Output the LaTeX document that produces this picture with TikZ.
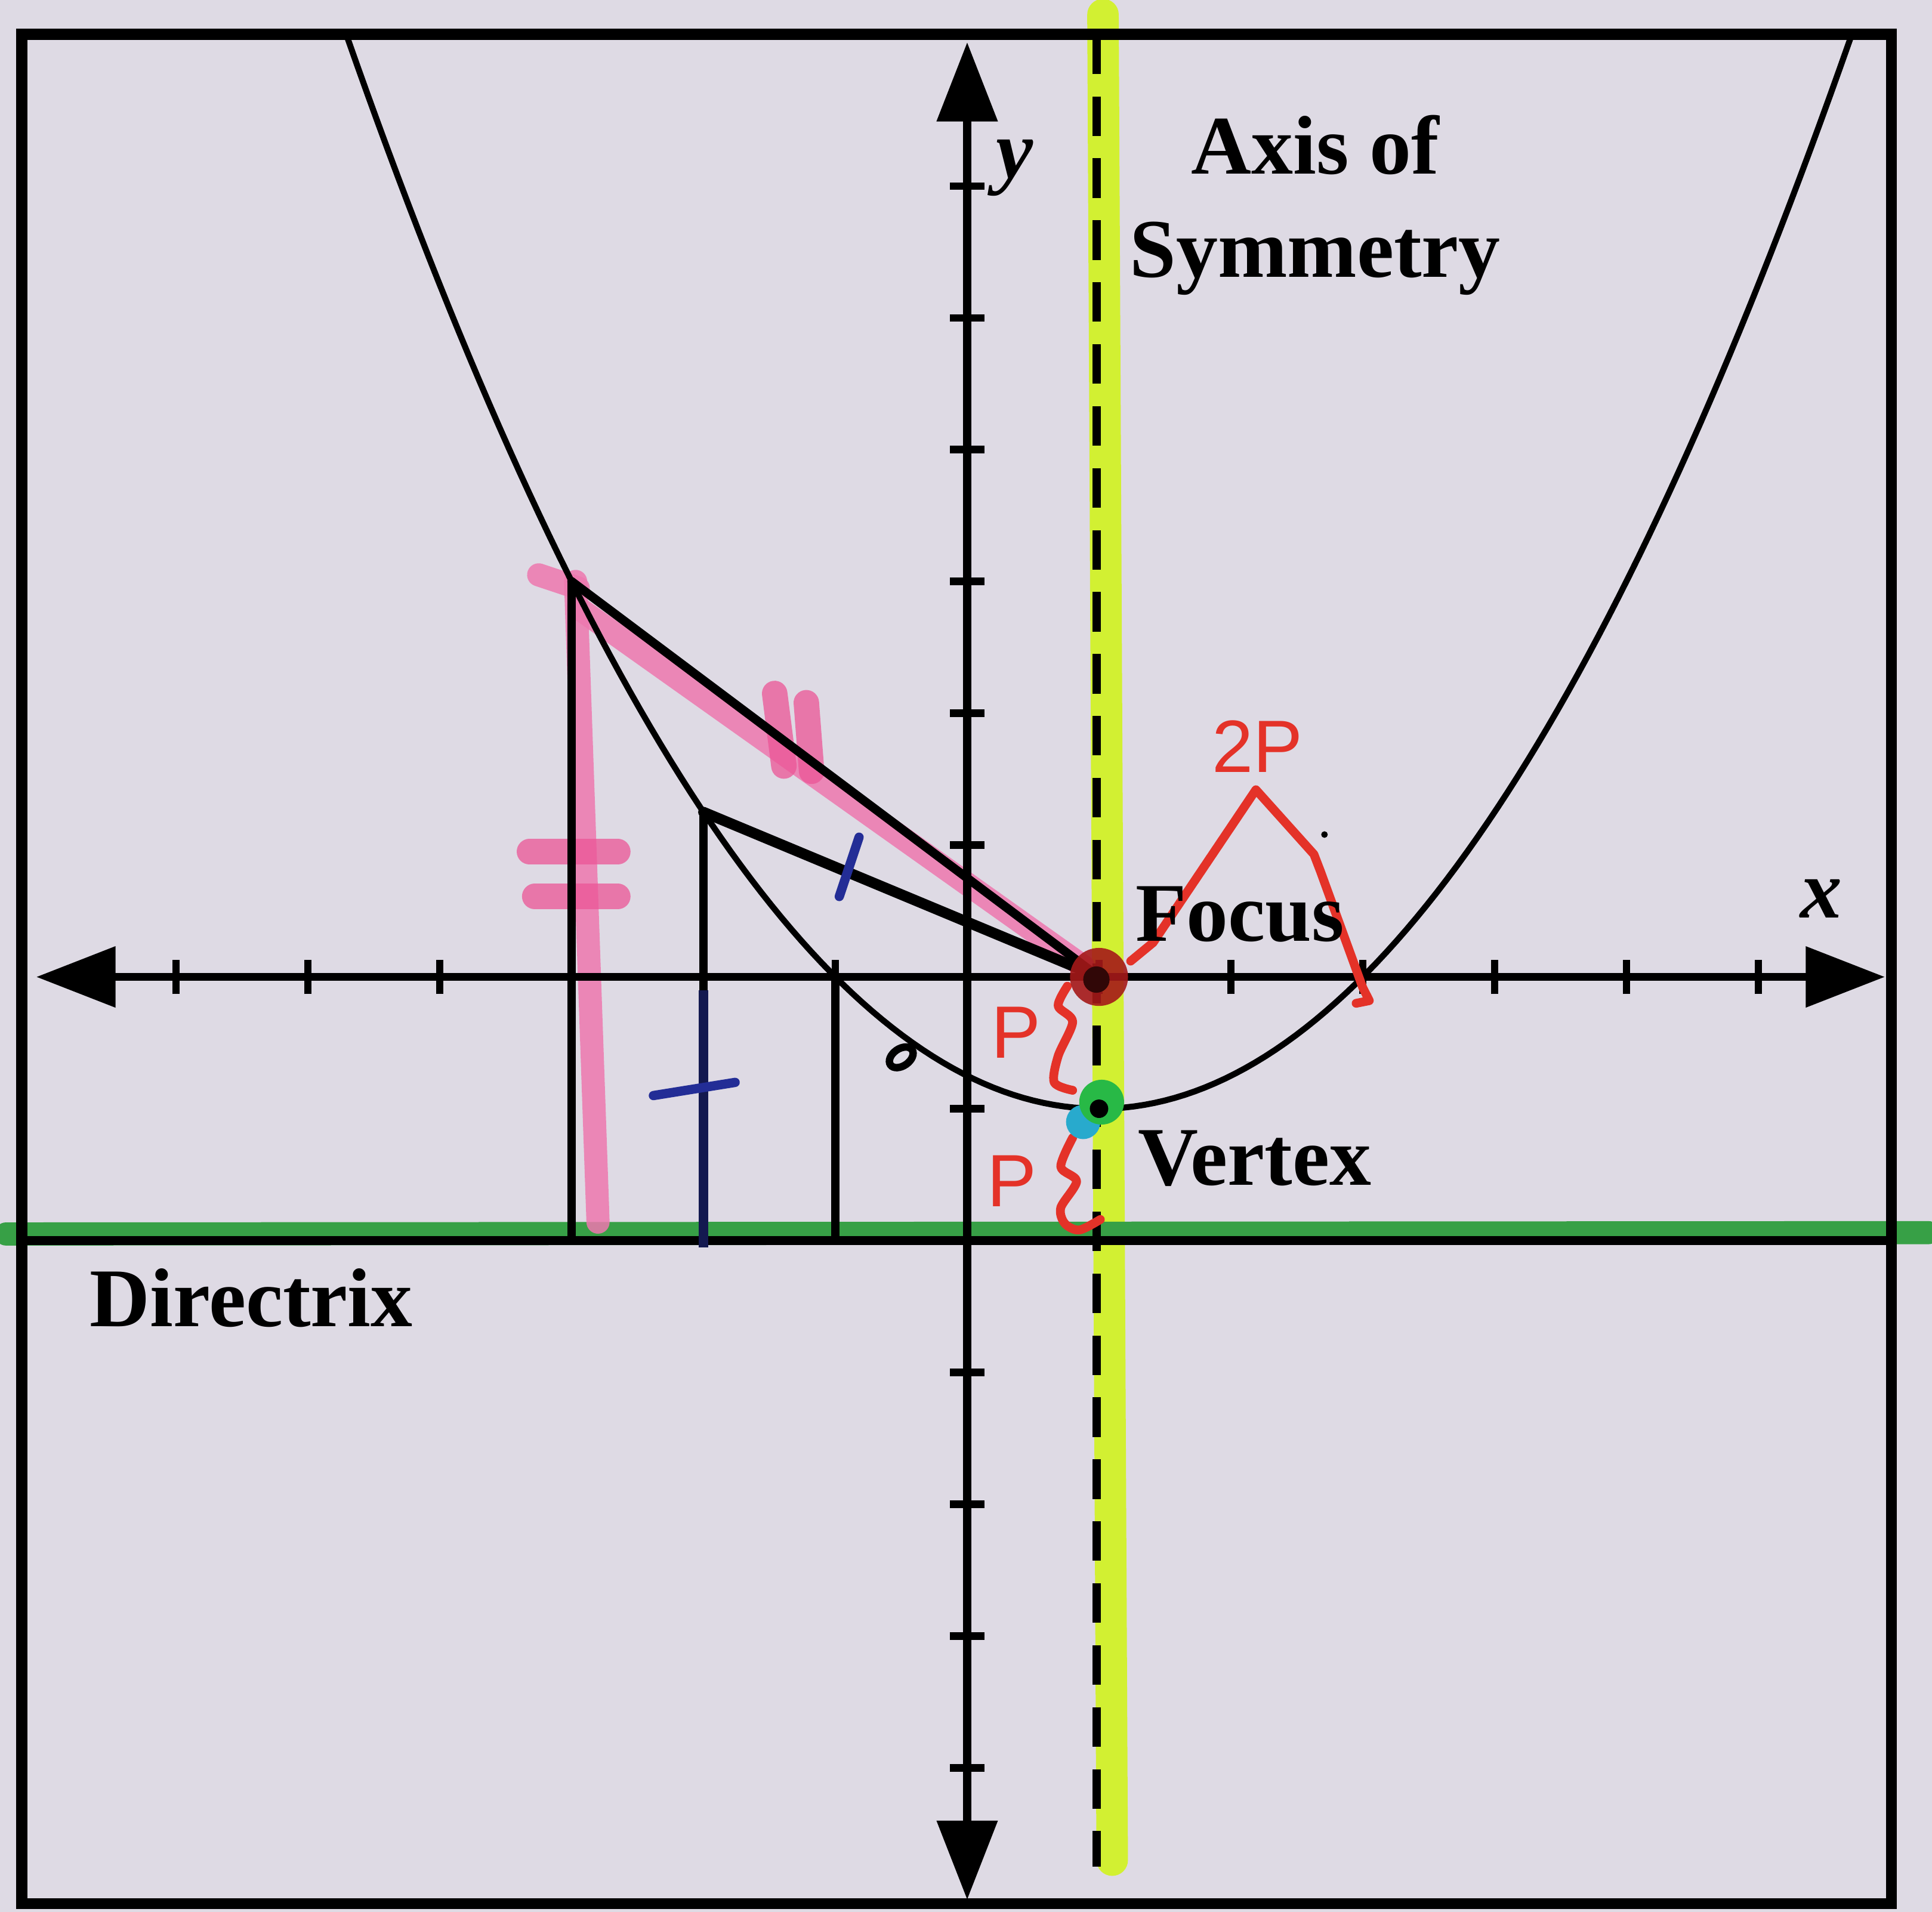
\documentclass[tikz,border=0pt]{standalone}
\usepackage{fontspec}
\setmainfont{Liberation Serif}
\newfontfamily\handfont{Liberation Sans}
\usetikzlibrary{arrows.meta}
\definecolor{paper}{RGB}{222,218,228}
\definecolor{limehl}{RGB}{210,240,50}
\definecolor{greenhl}{RGB}{55,160,70}
\definecolor{pinkhl}{RGB}{238,120,175}
\definecolor{pinkmark}{RGB}{236,85,150}
\definecolor{redpen}{RGB}{228,50,40}
\definecolor{focusred}{RGB}{165,25,25}
\definecolor{bluepen}{RGB}{35,45,150}
\definecolor{navypen}{RGB}{20,25,80}
\definecolor{vgreen}{RGB}{40,185,70}
\definecolor{vcyan}{RGB}{40,170,205}
\tikzset{
  framebox/.style={line width=2.4pt, draw=black},
  axisline/.style={line width=1.7pt, black},
  tickmark/.style={line width=1.6pt, black},
  curveline/.style={line width=1.3pt, black},
  seg/.style={line width=1.9pt, black, line cap=round},
  symdash/.style={line width=1.8pt, black, dash pattern=on 0.3cm off 0.17cm},
  hlpink/.style={line width=5pt, pinkhl, opacity=0.85, line cap=round},
  hashpink/.style={line width=5.5pt, pinkmark, opacity=0.75, line cap=round},
  pen/.style={line width=1.9pt, redpen, line cap=round, line join=round},
  bluemark/.style={line width=2pt, bluepen, line cap=round},
  boldlabel/.style={font=\fontsize{18}{20}\selectfont\bfseries, text=black, inner sep=0pt},
  axlabel/.style={font=\fontsize{18}{20}\selectfont\itshape\bfseries, text=black, inner sep=0pt},
  handlabel/.style={font=\handfont\fontsize{16}{18}\selectfont, text=redpen, inner sep=0pt},
  tri/.tip={Triangle[length=0.6cm, width=0.45cm]}
}
\begin{document}
\begin{tikzpicture}[x=1cm,y=1cm]
\fill[paper] (-7.336,-7.093) rectangle (7.318,7.411);
\useasboundingbox (-7.336,-7.093) rectangle (7.318,7.411);

% key points
\coordinate (O) at (0,0);
\coordinate (F) at (1,0);
\coordinate (V) at (1,-1);
\coordinate (P1) at (-3,3);
\coordinate (P2) at (-2,1.25);
\coordinate (P3) at (-1,0);
\coordinate (D1) at (-3,-2);
\coordinate (D2) at (-2,-2);
\coordinate (D3) at (-1,-2);

% highlighters
\draw[line width=6.8pt, limehl, line cap=round] (1.03,7.3) -- (1.1,-6.7);
\draw[line width=5pt, greenhl, line cap=round] (-7.29,-1.95) -- (7.29,-1.94);
\draw[hlpink] (-2.97,3.0) -- (-2.80,-1.86);
\draw[hlpink] (-3.25,3.05) -- (-2.95,2.95);
\draw[hlpink] (-2.95,2.8) -- (0.88,0.08);
\draw[hashpink] (-1.46,2.15) -- (-1.39,1.6);
\draw[hashpink] (-1.22,2.08) -- (-1.18,1.56);
\draw[hashpink] (-3.32,0.95) -- (-2.65,0.95);
\draw[hashpink] (-3.28,0.61) -- (-2.65,0.61);

% frame
\draw[framebox] (-7.17,-7.03) rectangle (7.01,7.15);

% axes
\draw[axisline, tri-tri] (-7.06,0) -- (6.96,0);
\draw[axisline, tri-tri] (0,-7.0) -- (0,7.09);
\foreach \k in {-6,-5,-4,-3,-2,-1,1,2,3,4,5,6} {
  \draw[tickmark] (\k,-0.13) -- (\k,0.13);
  \draw[tickmark] (-0.13,\k) -- (0.13,\k);
}

% axis of symmetry (dashed)
\draw[symdash] (0.98,7.15) -- (0.98,-6.75);

% directrix
\draw[line width=1.9pt, black] (-7.17,-2) -- (7.01,-2);

% parabola
\draw[curveline] plot[domain=-4.70:6.70, samples=150] (\x,{(\x-1)^2/4-1});

% segments to focus and directrix
\draw[seg] (P1) -- (F);
\draw[seg, line width=2.3pt] (P2) -- (F);
\draw[seg] (P1) -- (D1);
\draw[seg] (P2) -- (D2);
\draw[seg] (P3) -- (D3);
\draw[line width=2pt, navypen] (-2,-0.1) -- (-2,-2.05);

% blue congruence ticks
\draw[bluemark] (-0.82,1.06) -- (-0.97,0.61);
\draw[bluemark] (-2.38,-0.90) -- (-1.76,-0.80);

% red annotations
\draw[pen] (1.24,0.12) -- (1.41,0.26) -- (2.19,1.42) -- (2.63,0.93) -- (2.68,0.8) -- (3.0,-0.08) -- (3.05,-0.18) -- (2.95,-0.2);
\draw[pen] plot[smooth] coordinates {(0.76,-0.07) (0.69,-0.22) (0.80,-0.34) (0.69,-0.60) (0.66,-0.80) (0.80,-0.86)};
\draw[pen] plot[smooth] coordinates {(0.80,-1.22) (0.71,-1.44) (0.83,-1.55) (0.71,-1.75) (0.74,-1.87) (0.85,-1.92) (1.01,-1.84)};
\node[handlabel] (twop) at (2.2,1.75) {2P};
\node[handlabel] (pone) at (0.37,-0.42) {P};
\node[handlabel] (ptwo) at (0.34,-1.55) {P};

% focus and vertex dots
\fill[focusred, opacity=0.9] (F) circle (0.22);
\fill[black!70!focusred] (0.98,-0.02) circle (0.1);
\fill[vcyan] (0.88,-1.1) circle (0.13);
\fill[vgreen] (1.02,-0.95) circle (0.17);
\fill[black] (V) circle (0.07);

% small hand marks
\draw[line width=1.6pt, black] (-0.5,-0.61) ellipse [x radius=0.1, y radius=0.065, rotate=35];
\fill[black] (2.71,1.08) circle (0.025);

% labels
\node[boldlabel, anchor=base] (axis1) at (2.64,6.09) {Axis of};
\node[boldlabel, anchor=base] (axis2) at (2.64,5.31) {Symmetry};
\node[boldlabel, anchor=base west] (focus) at (1.27,0.27) {Focus};
\node[boldlabel, anchor=base west] (vertex) at (1.29,-1.58) {Vertex};
\node[boldlabel, anchor=base west] (directrix) at (-6.66,-2.65) {Directrix};
\node[axlabel, anchor=base] (ylab) at (0.36,6.06) {y};
\node[axlabel, anchor=base] (xlab) at (6.48,0.45) {x};
\end{tikzpicture}
\end{document}
